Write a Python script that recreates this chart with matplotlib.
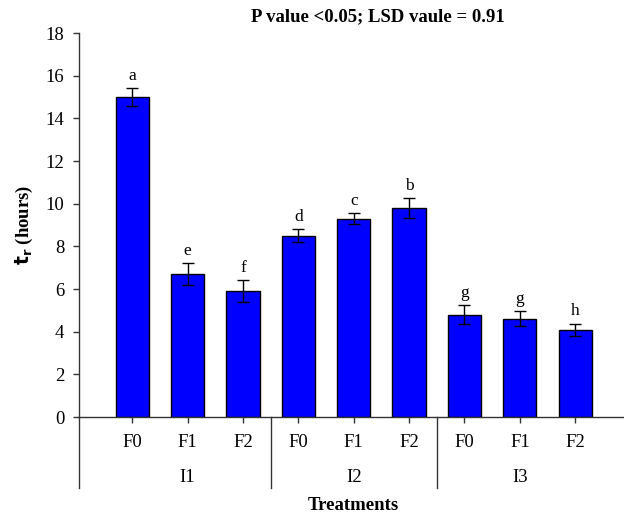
import numpy as np
import matplotlib
matplotlib.use("Agg")
import matplotlib.pyplot as plt
from matplotlib.transforms import blended_transform_factory

plt.rcParams['font.family'] = ['Liberation Serif', 'DejaVu Serif']

groups = ['I1', 'I2', 'I3']
levels = ['F0', 'F1', 'F2']
means = [15.0, 6.7, 5.9, 8.5, 9.3, 9.8, 4.8, 4.6, 4.1]
errors = [0.42, 0.5, 0.53, 0.32, 0.25, 0.45, 0.45, 0.35, 0.28]
letters = ['a', 'e', 'f', 'd', 'c', 'b', 'g', 'g', 'h']
title = 'P value <0.05; LSD vaule = 0.91'

fig = plt.figure(figsize=(6.24, 5.12), dpi=100)
ax = fig.add_axes([79 / 624, 95 / 512, 1 - 79 / 624, 384 / 512])

x = np.arange(len(means))
ax.bar(x, means, width=0.6, color='#0000ff', edgecolor='black', linewidth=1.0,
       yerr=errors, capsize=4.5, error_kw=dict(elinewidth=1.0, capthick=1.0, ecolor='black'))

for xi, m, e, lab in zip(x, means, errors, letters):
    ax.text(xi, m + e + 0.2, lab, ha='center', va='bottom', fontsize=12.5)

ax.set_xlim(-0.96, 8.88)
ax.set_ylim(0, 18)
ax.set_yticks(np.arange(0, 19, 2))
ax.set_xticks(x)
ax.set_xticklabels(levels * len(groups))
ax.tick_params(axis='both', direction='out', width=1.0, labelsize=13.5, color='#333333')
ax.tick_params(axis='x', length=4, pad=8)
ax.tick_params(axis='y', length=4.5, pad=6)
for s in ['top', 'right']:
    ax.spines[s].set_visible(False)
for s in ['left', 'bottom']:
    ax.spines[s].set_linewidth(1.0)
    ax.spines[s].set_color('#333333')

trans = blended_transform_factory(ax.transData, ax.transAxes)
for sep in [-0.96, 2.5, 5.5]:
    ax.plot([sep, sep], [0, -71 / 384], color='#333333', lw=1.0, clip_on=False, transform=trans)
for gi, g in enumerate(groups):
    ax.text(gi * 3 + 1, -60 / 384, g, transform=trans, ha='center', va='center', fontsize=13.5)

ax.text(4, -88 / 384, 'Treatments', transform=trans, ha='center', va='center',
        fontsize=13.5, fontweight='bold')
ax.set_ylabel(r'$\mathbf{t_r}$ (hours)', fontsize=13.5, fontweight='bold', labelpad=8)
fig.text(378 / 624, 1 - 17 / 512, title, ha='center', va='center', fontsize=13.5, fontweight='bold')

fig.savefig('out.png', dpi=100)
